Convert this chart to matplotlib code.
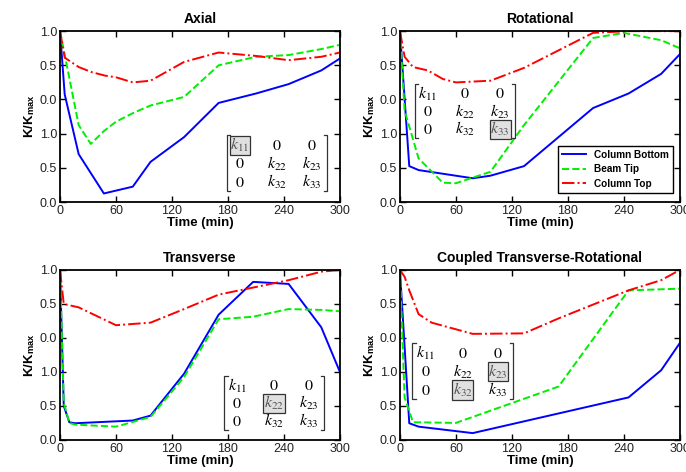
import numpy as np
import matplotlib
matplotlib.use("Agg")
import matplotlib.pyplot as plt

plt.rcParams["font.family"] = ["Liberation Sans", "DejaVu Sans"]
plt.rcParams["mathtext.fontset"] = "custom"
plt.rcParams["mathtext.rm"] = "STIXGeneral"
plt.rcParams["mathtext.it"] = "STIXGeneral:italic"
plt.rcParams["mathtext.bf"] = "Liberation Sans:bold"

# Axial
axialBotT = [0, 5, 20, 47, 78, 97, 133, 170, 210, 245, 280, 300]
axialBotY = [1.0, 0.63, 0.28, 0.05, 0.09, 0.235, 0.38, 0.58, 0.635, 0.69, 0.77, 0.84]
axialTipT = [0, 20, 33, 47, 60, 78, 97, 133, 170, 210, 245, 280, 300]
axialTipY = [1.0, 0.45, 0.34, 0.415, 0.47, 0.52, 0.565, 0.615, 0.80, 0.85, 0.86, 0.895, 0.92]
axialTopT = [0, 5, 20, 34, 48, 60, 78, 97, 133, 170, 210, 245, 280, 300]
axialTopY = [1.0, 0.845, 0.79, 0.76, 0.74, 0.73, 0.70, 0.71, 0.82, 0.875, 0.855, 0.83, 0.85, 0.875]

# Rotational
rotBotT = [0, 10, 20, 78, 97, 133, 207, 245, 280, 300]
rotBotY = [1.0, 0.21, 0.187, 0.139, 0.154, 0.21, 0.55, 0.635, 0.75, 0.865]
rotTipT = [0, 5, 20, 46, 60, 97, 133, 207, 240, 280, 300]
rotTipY = [1.0, 0.535, 0.255, 0.113, 0.11, 0.177, 0.45, 0.96, 0.99, 0.947, 0.90]
rotTopT = [0, 5, 14, 30, 46, 60, 97, 133, 207, 245, 300]
rotTopY = [1.0, 0.85, 0.79, 0.77, 0.72, 0.70, 0.71, 0.785, 0.99, 1.0, 1.0]

# Transverse
trBotT = [0, 4, 10, 16, 78, 97, 133, 170, 207, 245, 280, 300]
trBotY = [1.0, 0.20, 0.104, 0.098, 0.114, 0.143, 0.39, 0.737, 0.93, 0.918, 0.663, 0.40]
trTipT = [0, 4, 10, 16, 60, 97, 133, 170, 207, 245, 280, 300]
trTipY = [1.0, 0.22, 0.10, 0.09, 0.078, 0.135, 0.37, 0.71, 0.725, 0.77, 0.765, 0.757]
trTopT = [0, 4, 20, 60, 97, 133, 170, 210, 245, 280, 300]
trTopY = [1.0, 0.80, 0.78, 0.675, 0.69, 0.77, 0.855, 0.90, 0.94, 0.99, 1.0]

# Coupled Transverse-Rotational
cpBotT = [0, 10, 20, 78, 245, 280, 300]
cpBotY = [1.0, 0.098, 0.078, 0.04, 0.25, 0.41, 0.57]
cpTipT = [0, 5, 14, 60, 170, 245, 300]
cpTipY = [1.0, 0.25, 0.104, 0.10, 0.314, 0.88, 0.89]
cpTopT = [0, 5, 10, 20, 34, 78, 133, 170, 245, 280, 300]
cpTopY = [1.0, 0.96, 0.88, 0.74, 0.69, 0.624, 0.627, 0.715, 0.88, 0.94, 1.0]

titles = ["Axial", "Rotational", "Transverse", "Coupled Transverse-Rotational"]
xTicks = [0, 60, 120, 180, 240, 300]
yTicks = [0, 0.2, 0.4, 0.6, 0.8, 1.0]
yTickLabels = ["0.0", "0.5", "1.0", "0.0", "0.5", "1.0"]
seriesNames = ["Column Bottom", "Beam Tip", "Column Top"]

panels = [
    [(axialBotT, axialBotY), (axialTipT, axialTipY), (axialTopT, axialTopY)],
    [(rotBotT, rotBotY), (rotTipT, rotTipY), (rotTopT, rotTopY)],
    [(trBotT, trBotY), (trTipT, trTipY), (trTopT, trTopY)],
    [(cpBotT, cpBotY), (cpTipT, cpTipY), (cpTopT, cpTopY)],
]

# matrix box (x0, x1, y0, y1) in axes fraction and highlighted cells
matrices = [
    ((0.596, 0.954, 0.065, 0.39), [(0, 0)]),
    ((0.053, 0.412, 0.375, 0.69), [(2, 2)]),
    ((0.587, 0.943, 0.06, 0.376), [(1, 1)]),
    ((0.044, 0.404, 0.24, 0.569), [(1, 2), (2, 1)]),
]
entries = [[r"$k_{11}$", r"$0$", r"$0$"],
           [r"$0$", r"$k_{22}$", r"$k_{23}$"],
           [r"$0$", r"$k_{32}$", r"$k_{33}$"]]

styles = [dict(color="#0000ff", linestyle="-"),
          dict(color="#00ee00", linestyle="--"),
          dict(color="#ff0000", linestyle="-.")]

positions = [
    [0.0875, 0.572, 0.408, 0.362],
    [0.583, 0.572, 0.408, 0.362],
    [0.0875, 0.068, 0.408, 0.360],
    [0.583, 0.068, 0.408, 0.360],
]


def drawMatrix(ax, box, highlight):
    x0, x1, y0, y1 = box
    serif = 0.012
    lineKw = dict(color="#333333", lw=0.9, transform=ax.transAxes, clip_on=False)
    ax.plot([x0 + serif, x0, x0, x0 + serif], [y1, y1, y0, y0], **lineKw)
    ax.plot([x1 - serif, x1, x1, x1 - serif], [y1, y1, y0, y0], **lineKw)
    colFrac = [0.13, 0.50, 0.85]
    rowFrac = [0.82, 0.49, 0.16]
    for r in range(3):
        for c in range(3):
            tx = x0 + (x1 - x0) * colFrac[c]
            ty = y0 + (y1 - y0) * rowFrac[r]
            bbox = None
            color = "black"
            if (r, c) in highlight:
                bbox = dict(boxstyle="square,pad=0.04", fc="#e0e0e0", ec="#333333", lw=0.9)
                color = "#555555"
            ax.text(tx, ty, entries[r][c], transform=ax.transAxes, ha="center",
                    va="center", fontsize=11.5, color=color, bbox=bbox)


fig = plt.figure(figsize=(6.86, 4.72), dpi=100)

for i in range(4):
    ax = fig.add_axes(positions[i])
    for j in range(3):
        t, y = panels[i][j]
        ax.plot(t, y, lw=1.4, label=seriesNames[j], **styles[j])
    ax.set_xlim(0, 300)
    ax.set_ylim(0, 1.0)
    ax.set_xticks(xTicks)
    ax.set_yticks(yTicks)
    ax.set_yticklabels(yTickLabels)
    ax.tick_params(direction="in", top=True, right=True, length=4, width=1,
                   labelsize=9, pad=2, labelcolor="#222222")
    for s in ax.spines.values():
        s.set_linewidth(1.3)
    ax.set_title(titles[i], fontsize=10, fontweight="bold", pad=6)
    ax.set_xlabel("Time (min)", fontsize=9.5, fontweight="bold", labelpad=0)
    ax.set_ylabel(r"K/K$_{\mathbf{max}}$", fontsize=9.5, fontweight="bold", labelpad=2)
    drawMatrix(ax, matrices[i][0], matrices[i][1])
    if i == 1:
        leg = ax.legend(loc="lower right", bbox_to_anchor=(0.975, 0.054),
                        borderaxespad=0, fancybox=False, framealpha=1,
                        prop=dict(weight="bold", size=7.2), handlelength=2.4,
                        labelspacing=0.45)
        leg.get_frame().set_edgecolor("black")
        leg.get_frame().set_linewidth(1)

fig.savefig("out.png", dpi=100)
